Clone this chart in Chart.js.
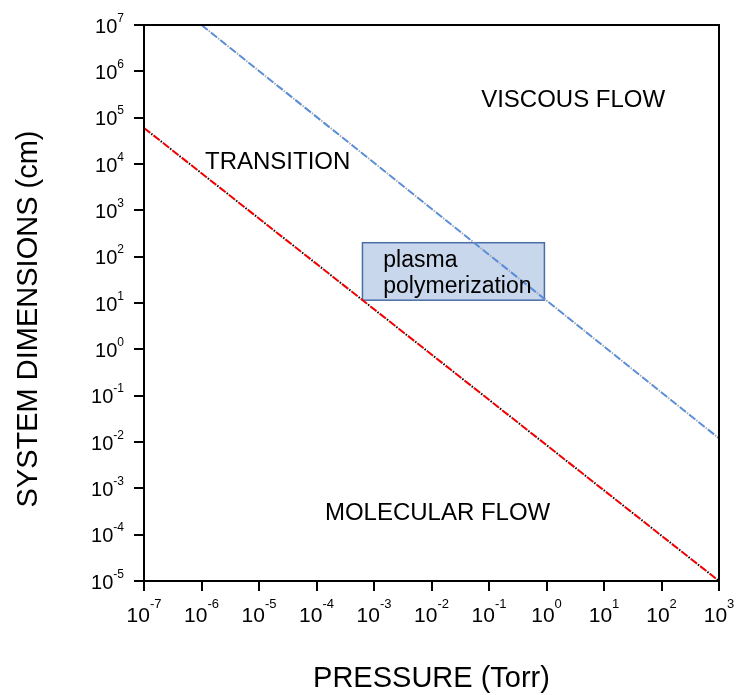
<!DOCTYPE html>
<html>
<head>
<meta charset="utf-8">
<script src="https://cdn.jsdelivr.net/npm/chart.js@4/dist/chart.umd.min.js"></script>
<style>
  html, body { margin: 0; padding: 0; background: #fff; }
  #wrap { width: 737px; height: 695px; }
</style>
</head>
<body>
<div id="wrap"><canvas id="myChart" width="737" height="695"></canvas></div>
<script>
// dados
const xExponents = [-7, -6, -5, -4, -3, -2, -1, 0, 1, 2, 3];
const yExponents = [-5, -4, -3, -2, -1, 0, 1, 2, 3, 4, 5, 6, 7];

// limite fluxo molecular (linha vermelha)
const molecularPressure = [1e-7, 1e3];
const molecularSize = [6e4, 1e-5];

// limite fluxo viscoso (linha azul)
const viscousPressure = [1e-6, 1e3];
const viscousSize = [1e7, 1.2e-2];

// caixa "plasma polymerization"
const plasmaPressure = [6.3e-4, 0.92];
const plasmaSize = [11.5, 200];
const plasmaText = ["plasma", "polymerization"];
const plasmaTextPressure = [1.45e-3, 1.45e-3];
const plasmaTextSize = [60, 16.4];

// rotulos das regioes
const regionNames = ["VISCOUS FLOW", "TRANSITION", "MOLECULAR FLOW"];
const regionPressure = [7.3e-2, 1.15e-6, 1.4e-4];
const regionSize = [1.7e5, 7.9e3, 2.1e-4];

const toPoints = (xs, ys) => xs.map((x, i) => ({ x: x, y: ys[i] }));

const FONT = "Arial, 'Liberation Sans', sans-serif";

const drawPow = (ctx, x, y, exp, align, baseSize, expSize, rise) => {
    ctx.save();
    ctx.fillStyle = "#000";
    ctx.textBaseline = "alphabetic";
    ctx.font = baseSize + "px " + FONT;
    const base = "10";
    const wb = ctx.measureText(base).width;
    ctx.font = expSize + "px " + FONT;
    const we = ctx.measureText(String(exp)).width;
    let left;
    if (align === "center") left = x - (wb + we) / 2;
    else left = x - wb - we;
    ctx.textAlign = "left";
    ctx.font = baseSize + "px " + FONT;
    ctx.fillText(base, left, y);
    ctx.font = expSize + "px " + FONT;
    ctx.fillText(String(exp), left + wb, y - rise);
    ctx.restore();
};

const chartPlugin = {
    id: "extras",
    beforeDatasetsDraw(chart) {
        const ctx = chart.ctx;
        const xs = chart.scales.x, ys = chart.scales.y;
        const x0 = xs.getPixelForValue(plasmaPressure[0]);
        const x1 = xs.getPixelForValue(plasmaPressure[1]);
        const y0 = ys.getPixelForValue(plasmaSize[1]);
        const y1 = ys.getPixelForValue(plasmaSize[0]);
        ctx.save();
        ctx.fillStyle = "#c8d7ec";
        ctx.strokeStyle = "#4b6ea6";
        ctx.lineWidth = 1.5;
        ctx.fillRect(x0, y0, x1 - x0, y1 - y0);
        ctx.strokeRect(x0, y0, x1 - x0, y1 - y0);
        ctx.restore();
    },
    afterDraw(chart) {
        const ctx = chart.ctx;
        const xs = chart.scales.x, ys = chart.scales.y;
        const a = chart.chartArea;

        // moldura
        ctx.save();
        ctx.strokeStyle = "#000";
        ctx.lineWidth = 2;
        ctx.strokeRect(a.left, a.top, a.right - a.left, a.bottom - a.top);
        ctx.restore();

        // rotulos dos ticks
        xExponents.forEach(e => {
            drawPow(ctx, xs.getPixelForValue(Math.pow(10, e)), 622, e, "center", 21, 13, 14);
        });
        yExponents.forEach(e => {
            drawPow(ctx, 124, ys.getPixelForValue(Math.pow(10, e)) + 7.5, e, "right", 20, 12, 11);
        });

        // textos
        ctx.save();
        ctx.fillStyle = "#000";
        ctx.textBaseline = "alphabetic";
        ctx.textAlign = "left";
        ctx.font = "24px " + FONT;
        regionNames.forEach((t, i) => {
            ctx.fillText(t, xs.getPixelForValue(regionPressure[i]), ys.getPixelForValue(regionSize[i]));
        });
        ctx.font = "23px " + FONT;
        plasmaText.forEach((t, i) => {
            ctx.fillText(t, xs.getPixelForValue(plasmaTextPressure[i]), ys.getPixelForValue(plasmaTextSize[i]));
        });

        // titulos dos eixos
        ctx.font = "29px " + FONT;
        ctx.textAlign = "center";
        ctx.fillText("PRESSURE (Torr)", (a.left + a.right) / 2, 687);
        ctx.translate(37, 319);
        ctx.rotate(-Math.PI / 2);
        ctx.fillText("SYSTEM DIMENSIONS (cm)", 0, 0);
        ctx.restore();
    }
};

const ctx = document.getElementById("myChart");

const data = {
    datasets: [
        {
            label: "molecular",
            data: toPoints(molecularPressure, molecularSize),
            borderColor: "#f00000",
            borderWidth: 2,
            borderDash: [8, 4]
        },
        {
            label: "molecular dots",
            data: toPoints(molecularPressure, molecularSize),
            borderColor: "#000",
            borderWidth: 2,
            borderDash: [1.5, 10.5],
            borderDashOffset: 2.75
        },
        {
            label: "viscous",
            data: toPoints(viscousPressure, viscousSize),
            borderColor: "#5b8ed6",
            borderWidth: 2,
            borderDash: [8, 4]
        },
        {
            label: "viscous dots",
            data: toPoints(viscousPressure, viscousSize),
            borderColor: "#a9a9a9",
            borderWidth: 2,
            borderDash: [1.5, 10.5],
            borderDashOffset: 2.75
        }
    ]
};

const chart = new Chart(ctx, {
    type: "scatter",
    data: data,
    options: {
        responsive: false,
        animation: false,
        showLine: true,
        layout: { padding: { left: 0, top: 25, right: 18, bottom: 0 } },
        elements: { point: { radius: 0, hoverRadius: 0 }, line: { tension: 0 } },
        plugins: { legend: { display: false }, tooltip: { enabled: false } },
        scales: {
            x: {
                type: "logarithmic",
                min: 1e-7,
                max: 1e3,
                afterBuildTicks: s => { s.ticks = xExponents.map(e => ({ value: Math.pow(10, e) })); },
                afterFit: s => { s.height = 114; },
                ticks: { color: "transparent", autoSkip: false, callback: () => "10" },
                grid: { drawOnChartArea: false, color: "#000", lineWidth: 2, tickLength: 10 },
                border: { display: true, color: "#000", width: 2 }
            },
            y: {
                type: "logarithmic",
                min: 1e-5,
                max: 1e7,
                afterBuildTicks: s => { s.ticks = yExponents.map(e => ({ value: Math.pow(10, e) })); },
                afterFit: s => { s.width = 144; },
                ticks: { color: "transparent", autoSkip: false, callback: () => "10" },
                grid: { drawOnChartArea: false, color: "#000", lineWidth: 2, tickLength: 10 },
                border: { display: true, color: "#000", width: 2 }
            }
        }
    },
    plugins: [chartPlugin]
});
</script>
</body>
</html>
